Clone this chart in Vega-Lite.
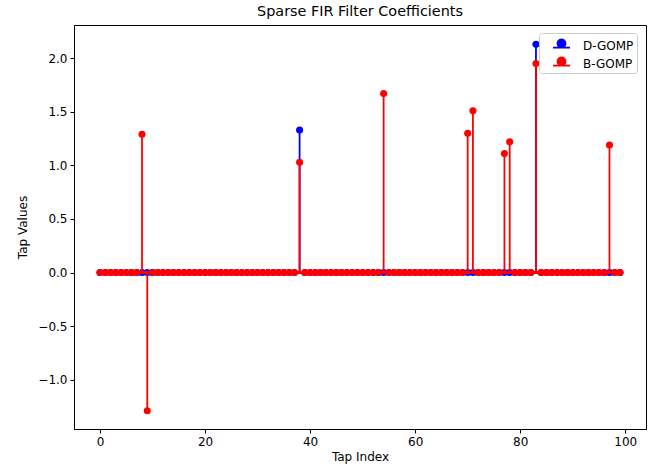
{
  "$schema": "https://vega.github.io/schema/vega-lite/v6.json",
  "autosize": "none",
  "width": 572,
  "height": 404,
  "padding": {"left": 74, "top": 25, "right": 3, "bottom": 40},
  "background": "white",
  "title": {"text": "Sparse FIR Filter Coefficients", "font": "DejaVu Sans", "fontSize": 14.4, "fontWeight": "normal", "color": "black", "offset": 6},
  "config": {
    "view": {"stroke": "black", "strokeWidth": 1},
    "axis": {"grid": false, "domainColor": "black", "tickColor": "black", "labelColor": "black", "titleColor": "black", "labelFont": "DejaVu Sans", "titleFont": "DejaVu Sans", "labelFontSize": 12, "titleFontSize": 12, "titleFontWeight": "normal", "tickSize": 4, "labelPadding": 3}
  },
  "data": {"values": [
    {"tap":0,"value":0,"series":"D-GOMP"},{"tap":1,"value":0,"series":"D-GOMP"},{"tap":2,"value":0,"series":"D-GOMP"},{"tap":3,"value":0,"series":"D-GOMP"},{"tap":4,"value":0,"series":"D-GOMP"},{"tap":5,"value":0,"series":"D-GOMP"},{"tap":6,"value":0,"series":"D-GOMP"},{"tap":7,"value":0,"series":"D-GOMP"},{"tap":8,"value":0,"series":"D-GOMP"},{"tap":9,"value":0,"series":"D-GOMP"},
    {"tap":10,"value":0,"series":"D-GOMP"},{"tap":11,"value":0,"series":"D-GOMP"},{"tap":12,"value":0,"series":"D-GOMP"},{"tap":13,"value":0,"series":"D-GOMP"},{"tap":14,"value":0,"series":"D-GOMP"},{"tap":15,"value":0,"series":"D-GOMP"},{"tap":16,"value":0,"series":"D-GOMP"},{"tap":17,"value":0,"series":"D-GOMP"},{"tap":18,"value":0,"series":"D-GOMP"},{"tap":19,"value":0,"series":"D-GOMP"},
    {"tap":20,"value":0,"series":"D-GOMP"},{"tap":21,"value":0,"series":"D-GOMP"},{"tap":22,"value":0,"series":"D-GOMP"},{"tap":23,"value":0,"series":"D-GOMP"},{"tap":24,"value":0,"series":"D-GOMP"},{"tap":25,"value":0,"series":"D-GOMP"},{"tap":26,"value":0,"series":"D-GOMP"},{"tap":27,"value":0,"series":"D-GOMP"},{"tap":28,"value":0,"series":"D-GOMP"},{"tap":29,"value":0,"series":"D-GOMP"},
    {"tap":30,"value":0,"series":"D-GOMP"},{"tap":31,"value":0,"series":"D-GOMP"},{"tap":32,"value":0,"series":"D-GOMP"},{"tap":33,"value":0,"series":"D-GOMP"},{"tap":34,"value":0,"series":"D-GOMP"},{"tap":35,"value":0,"series":"D-GOMP"},{"tap":36,"value":0,"series":"D-GOMP"},{"tap":37,"value":0,"series":"D-GOMP"},{"tap":38,"value":1.33,"series":"D-GOMP"},{"tap":39,"value":0,"series":"D-GOMP"},
    {"tap":40,"value":0,"series":"D-GOMP"},{"tap":41,"value":0,"series":"D-GOMP"},{"tap":42,"value":0,"series":"D-GOMP"},{"tap":43,"value":0,"series":"D-GOMP"},{"tap":44,"value":0,"series":"D-GOMP"},{"tap":45,"value":0,"series":"D-GOMP"},{"tap":46,"value":0,"series":"D-GOMP"},{"tap":47,"value":0,"series":"D-GOMP"},{"tap":48,"value":0,"series":"D-GOMP"},{"tap":49,"value":0,"series":"D-GOMP"},
    {"tap":50,"value":0,"series":"D-GOMP"},{"tap":51,"value":0,"series":"D-GOMP"},{"tap":52,"value":0,"series":"D-GOMP"},{"tap":53,"value":0,"series":"D-GOMP"},{"tap":54,"value":0,"series":"D-GOMP"},{"tap":55,"value":0,"series":"D-GOMP"},{"tap":56,"value":0,"series":"D-GOMP"},{"tap":57,"value":0,"series":"D-GOMP"},{"tap":58,"value":0,"series":"D-GOMP"},{"tap":59,"value":0,"series":"D-GOMP"},
    {"tap":60,"value":0,"series":"D-GOMP"},{"tap":61,"value":0,"series":"D-GOMP"},{"tap":62,"value":0,"series":"D-GOMP"},{"tap":63,"value":0,"series":"D-GOMP"},{"tap":64,"value":0,"series":"D-GOMP"},{"tap":65,"value":0,"series":"D-GOMP"},{"tap":66,"value":0,"series":"D-GOMP"},{"tap":67,"value":0,"series":"D-GOMP"},{"tap":68,"value":0,"series":"D-GOMP"},{"tap":69,"value":0,"series":"D-GOMP"},
    {"tap":70,"value":0,"series":"D-GOMP"},{"tap":71,"value":0,"series":"D-GOMP"},{"tap":72,"value":0,"series":"D-GOMP"},{"tap":73,"value":0,"series":"D-GOMP"},{"tap":74,"value":0,"series":"D-GOMP"},{"tap":75,"value":0,"series":"D-GOMP"},{"tap":76,"value":0,"series":"D-GOMP"},{"tap":77,"value":0,"series":"D-GOMP"},{"tap":78,"value":0,"series":"D-GOMP"},{"tap":79,"value":0,"series":"D-GOMP"},
    {"tap":80,"value":0,"series":"D-GOMP"},{"tap":81,"value":0,"series":"D-GOMP"},{"tap":82,"value":0,"series":"D-GOMP"},{"tap":83,"value":2.13,"series":"D-GOMP"},{"tap":84,"value":0,"series":"D-GOMP"},{"tap":85,"value":0,"series":"D-GOMP"},{"tap":86,"value":0,"series":"D-GOMP"},{"tap":87,"value":0,"series":"D-GOMP"},{"tap":88,"value":0,"series":"D-GOMP"},{"tap":89,"value":0,"series":"D-GOMP"},
    {"tap":90,"value":0,"series":"D-GOMP"},{"tap":91,"value":0,"series":"D-GOMP"},{"tap":92,"value":0,"series":"D-GOMP"},{"tap":93,"value":0,"series":"D-GOMP"},{"tap":94,"value":0,"series":"D-GOMP"},{"tap":95,"value":0,"series":"D-GOMP"},{"tap":96,"value":0,"series":"D-GOMP"},{"tap":97,"value":0,"series":"D-GOMP"},{"tap":98,"value":0,"series":"D-GOMP"},{"tap":99,"value":0,"series":"D-GOMP"},
    {"tap":0,"value":0,"series":"B-GOMP"},{"tap":1,"value":0,"series":"B-GOMP"},{"tap":2,"value":0,"series":"B-GOMP"},{"tap":3,"value":0,"series":"B-GOMP"},{"tap":4,"value":0,"series":"B-GOMP"},{"tap":5,"value":0,"series":"B-GOMP"},{"tap":6,"value":0,"series":"B-GOMP"},{"tap":7,"value":0,"series":"B-GOMP"},{"tap":8,"value":1.29,"series":"B-GOMP"},{"tap":9,"value":-1.29,"series":"B-GOMP"},
    {"tap":10,"value":0,"series":"B-GOMP"},{"tap":11,"value":0,"series":"B-GOMP"},{"tap":12,"value":0,"series":"B-GOMP"},{"tap":13,"value":0,"series":"B-GOMP"},{"tap":14,"value":0,"series":"B-GOMP"},{"tap":15,"value":0,"series":"B-GOMP"},{"tap":16,"value":0,"series":"B-GOMP"},{"tap":17,"value":0,"series":"B-GOMP"},{"tap":18,"value":0,"series":"B-GOMP"},{"tap":19,"value":0,"series":"B-GOMP"},
    {"tap":20,"value":0,"series":"B-GOMP"},{"tap":21,"value":0,"series":"B-GOMP"},{"tap":22,"value":0,"series":"B-GOMP"},{"tap":23,"value":0,"series":"B-GOMP"},{"tap":24,"value":0,"series":"B-GOMP"},{"tap":25,"value":0,"series":"B-GOMP"},{"tap":26,"value":0,"series":"B-GOMP"},{"tap":27,"value":0,"series":"B-GOMP"},{"tap":28,"value":0,"series":"B-GOMP"},{"tap":29,"value":0,"series":"B-GOMP"},
    {"tap":30,"value":0,"series":"B-GOMP"},{"tap":31,"value":0,"series":"B-GOMP"},{"tap":32,"value":0,"series":"B-GOMP"},{"tap":33,"value":0,"series":"B-GOMP"},{"tap":34,"value":0,"series":"B-GOMP"},{"tap":35,"value":0,"series":"B-GOMP"},{"tap":36,"value":0,"series":"B-GOMP"},{"tap":37,"value":0,"series":"B-GOMP"},{"tap":38,"value":1.03,"series":"B-GOMP"},{"tap":39,"value":0,"series":"B-GOMP"},
    {"tap":40,"value":0,"series":"B-GOMP"},{"tap":41,"value":0,"series":"B-GOMP"},{"tap":42,"value":0,"series":"B-GOMP"},{"tap":43,"value":0,"series":"B-GOMP"},{"tap":44,"value":0,"series":"B-GOMP"},{"tap":45,"value":0,"series":"B-GOMP"},{"tap":46,"value":0,"series":"B-GOMP"},{"tap":47,"value":0,"series":"B-GOMP"},{"tap":48,"value":0,"series":"B-GOMP"},{"tap":49,"value":0,"series":"B-GOMP"},
    {"tap":50,"value":0,"series":"B-GOMP"},{"tap":51,"value":0,"series":"B-GOMP"},{"tap":52,"value":0,"series":"B-GOMP"},{"tap":53,"value":0,"series":"B-GOMP"},{"tap":54,"value":1.67,"series":"B-GOMP"},{"tap":55,"value":0,"series":"B-GOMP"},{"tap":56,"value":0,"series":"B-GOMP"},{"tap":57,"value":0,"series":"B-GOMP"},{"tap":58,"value":0,"series":"B-GOMP"},{"tap":59,"value":0,"series":"B-GOMP"},
    {"tap":60,"value":0,"series":"B-GOMP"},{"tap":61,"value":0,"series":"B-GOMP"},{"tap":62,"value":0,"series":"B-GOMP"},{"tap":63,"value":0,"series":"B-GOMP"},{"tap":64,"value":0,"series":"B-GOMP"},{"tap":65,"value":0,"series":"B-GOMP"},{"tap":66,"value":0,"series":"B-GOMP"},{"tap":67,"value":0,"series":"B-GOMP"},{"tap":68,"value":0,"series":"B-GOMP"},{"tap":69,"value":0,"series":"B-GOMP"},
    {"tap":70,"value":1.3,"series":"B-GOMP"},{"tap":71,"value":1.51,"series":"B-GOMP"},{"tap":72,"value":0,"series":"B-GOMP"},{"tap":73,"value":0,"series":"B-GOMP"},{"tap":74,"value":0,"series":"B-GOMP"},{"tap":75,"value":0,"series":"B-GOMP"},{"tap":76,"value":0,"series":"B-GOMP"},{"tap":77,"value":1.11,"series":"B-GOMP"},{"tap":78,"value":1.22,"series":"B-GOMP"},{"tap":79,"value":0,"series":"B-GOMP"},
    {"tap":80,"value":0,"series":"B-GOMP"},{"tap":81,"value":0,"series":"B-GOMP"},{"tap":82,"value":0,"series":"B-GOMP"},{"tap":83,"value":1.95,"series":"B-GOMP"},{"tap":84,"value":0,"series":"B-GOMP"},{"tap":85,"value":0,"series":"B-GOMP"},{"tap":86,"value":0,"series":"B-GOMP"},{"tap":87,"value":0,"series":"B-GOMP"},{"tap":88,"value":0,"series":"B-GOMP"},{"tap":89,"value":0,"series":"B-GOMP"},
    {"tap":90,"value":0,"series":"B-GOMP"},{"tap":91,"value":0,"series":"B-GOMP"},{"tap":92,"value":0,"series":"B-GOMP"},{"tap":93,"value":0,"series":"B-GOMP"},{"tap":94,"value":0,"series":"B-GOMP"},{"tap":95,"value":0,"series":"B-GOMP"},{"tap":96,"value":0,"series":"B-GOMP"},{"tap":97,"value":1.19,"series":"B-GOMP"},{"tap":98,"value":0,"series":"B-GOMP"},{"tap":99,"value":0,"series":"B-GOMP"}
  ]},
  "encoding": {
    "x": {"field": "tap", "type": "quantitative", "title": "Tap Index", "scale": {"domain": [-4.95, 103.95], "nice": false, "zero": false}, "axis": {"values": [0, 20, 40, 60, 80, 100], "titlePadding": 4}},
    "y": {"field": "value", "type": "quantitative", "title": "Tap Values", "scale": {"domain": [-1.46, 2.31], "nice": false, "zero": false}, "axis": {"values": [-1, -0.5, 0, 0.5, 1, 1.5, 2], "format": ".1f", "titlePadding": 8}}
  },
  "layer": [
    {"transform": [{"filter": "datum.series === 'D-GOMP'"}], "mark": {"type": "rule", "color": "blue", "strokeWidth": 1.8, "clip": true}, "encoding": {"y2": {"datum": 0}}},
    {"transform": [{"filter": "datum.series === 'D-GOMP'"}], "mark": {"type": "point", "filled": true, "opacity": 1, "size": 50, "shape": "circle"},
     "encoding": {"color": {"field": "series", "type": "nominal", "scale": {"domain": ["D-GOMP", "B-GOMP"], "range": ["blue", "red"]},
       "legend": {"title": null, "orient": "none", "legendX": 465, "legendY": 8, "labelFont": "DejaVu Sans", "labelFontSize": 12, "labelColor": "black", "symbolType": "M-1,0.24H1M0,-0.71A0.47,0.47,0,1,1,0,0.23A0.47,0.47,0,1,1,0,-0.71Z", "symbolSize": 289, "symbolStrokeWidth": 1.8, "symbolOpacity": 1, "symbolOffset": 10, "labelOffset": 12, "rowPadding": 1, "padding": 3, "strokeColor": "#cccccc", "fillColor": "rgba(255,255,255,0.8)", "cornerRadius": 3,
         "encode": {"symbols": {"update": {"stroke": {"scale": "color", "field": "value"}, "fill": {"scale": "color", "field": "value"}}}}}}}},
    {"transform": [{"filter": "datum.series === 'D-GOMP'"}], "mark": {"type": "rule", "color": "red", "strokeWidth": 1.8}, "encoding": {"x": {"datum": 0}, "x2": {"datum": 99}, "y": {"datum": 0}}},
    {"transform": [{"filter": "datum.series === 'B-GOMP'"}], "mark": {"type": "rule", "color": "red", "strokeWidth": 1.8, "clip": true}, "encoding": {"y2": {"datum": 0}}},
    {"transform": [{"filter": "datum.series === 'B-GOMP'"}], "mark": {"type": "point", "filled": true, "opacity": 1, "size": 50, "shape": "circle"}, "encoding": {"color": {"field": "series", "type": "nominal"}}},
    {"transform": [{"filter": "datum.series === 'B-GOMP'"}], "mark": {"type": "rule", "color": "red", "strokeWidth": 1.8}, "encoding": {"x": {"datum": 0}, "x2": {"datum": 99}, "y": {"datum": 0}}}
  ]
}
